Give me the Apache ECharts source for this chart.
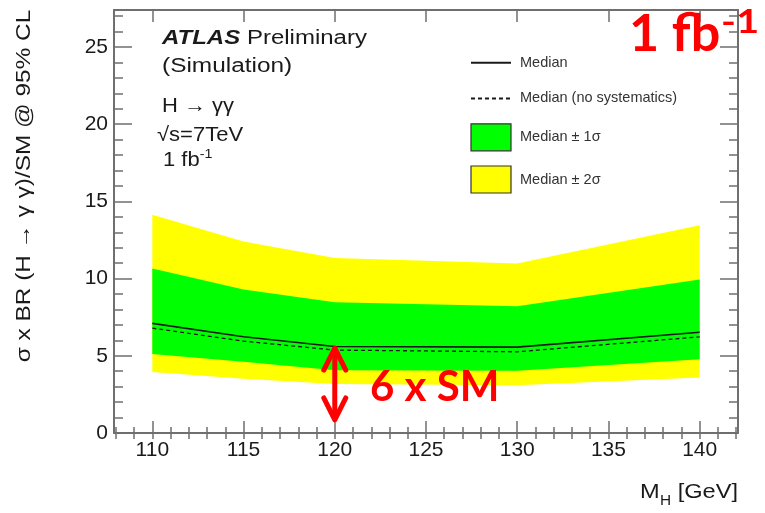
<!DOCTYPE html>
<html>
<head>
<meta charset="utf-8">
<script src="https://cdn.jsdelivr.net/npm/echarts@6/dist/echarts.min.js"></script>
<style>
  html, body { margin: 0; padding: 0; background: #ffffff; }
  #chart { width: 765px; height: 513px; }
</style>
</head>
<body>
<div id="chart"></div>
<script>
// Expected H -> gamma gamma exclusion limits, 1 fb^-1 at 7 TeV
const massPoints     = [110, 115, 120, 130, 140];
const median         = [7.10, 6.23, 5.60, 5.56, 6.53];
const medianNoSyst   = [6.79, 5.95, 5.37, 5.26, 6.23];
const band1Low       = [5.11, 4.61, 4.06, 4.03, 4.77];
const band1High      = [10.65, 9.29, 8.47, 8.21, 9.94];
const band2Low       = [3.95, 3.52, 3.17, 3.10, 3.60];
const band2High      = [14.14, 12.40, 11.34, 10.98, 13.45];

// Axis ranges and tick labels
const xRange = [107.9, 142.1];
const yRange = [0, 27.4];
const xMajorTicks = [110, 115, 120, 125, 130, 135, 140];
const xMinorTicks = [108,109,110,111,112,113,114,115,116,117,118,119,120,121,122,123,124,125,126,127,128,129,130,131,132,133,134,135,136,137,138,139,140,141,142];
const yMajorTicks = [0, 5, 10, 15, 20, 25];
const yMinorTicks = [1,2,3,4,5,6,7,8,9,10,11,12,13,14,15,16,17,18,19,20,21,22,23,24,25,26,27];

// "6 x SM" arrow: mass, top value, bottom value
const arrowMass = 120;
const arrowTop = 5.5;
const arrowBottom = 0.85;

const FONT = 'Liberation Sans';
const AXIS_COLOR = '#6f6f6f';
const TEXT_COLOR = '#1a1a1a';

function axisBase(extra) {
  return Object.assign({
    type: 'value',
    splitLine: { show: false },
    axisLabel: { show: false },
    axisLine: { show: false }
  }, extra);
}

function tickStyle(values, length) {
  return { show: true, inside: true, length: length, customValues: values,
           lineStyle: { color: AXIS_COLOR, width: 1.5 } };
}

const frameLine = { show: true, onZero: false, lineStyle: { color: AXIS_COLOR, width: 2 } };

const xAxes = [
  axisBase({ min: xRange[0], max: xRange[1], position: 'bottom', axisLine: frameLine,
    axisTick: tickStyle(xMajorTicks, 12),
    axisLabel: { show: true, customValues: xMajorTicks, fontSize: 21, fontFamily: FONT,
                 color: TEXT_COLOR, margin: 7 } }),
  axisBase({ min: xRange[0], max: xRange[1], position: 'bottom', axisTick: tickStyle(xMinorTicks, 6) }),
  axisBase({ min: xRange[0], max: xRange[1], position: 'top', axisLine: frameLine,
    axisTick: tickStyle(xMajorTicks, 12) }),
  axisBase({ min: xRange[0], max: xRange[1], position: 'top', axisTick: tickStyle(xMinorTicks, 6) })
];

const yAxes = [
  axisBase({ min: yRange[0], max: yRange[1], position: 'left', axisLine: frameLine,
    axisTick: tickStyle(yMajorTicks, 18),
    axisLabel: { show: true, customValues: yMajorTicks, fontSize: 21, fontFamily: FONT,
                 color: TEXT_COLOR, margin: 6 } }),
  axisBase({ min: yRange[0], max: yRange[1], position: 'left', axisTick: tickStyle(yMinorTicks, 9) }),
  axisBase({ min: yRange[0], max: yRange[1], position: 'right', axisLine: frameLine,
    axisTick: tickStyle(yMajorTicks, 18) }),
  axisBase({ min: yRange[0], max: yRange[1], position: 'right', axisTick: tickStyle(yMinorTicks, 9) })
];

// Filled band between a lower and an upper curve
function bandSeries(name, low, high, color, z) {
  return {
    type: 'custom',
    name: name,
    coordinateSystem: 'cartesian2d',
    xAxisIndex: 0, yAxisIndex: 0,
    z: z,
    silent: true,
    itemStyle: { color: color },
    data: [[massPoints[0], low[0]]],
    renderItem: function (params, api) {
      const upper = massPoints.map((m, i) => api.coord([m, high[i]]));
      const lower = massPoints.map((m, i) => api.coord([m, low[i]])).reverse();
      return { type: 'polygon', shape: { points: upper.concat(lower) }, style: { fill: color } };
    }
  };
}

const series = [
  bandSeries('Median ± 2σ', band2Low, band2High, '#ffff00', 1),
  bandSeries('Median ± 1σ', band1Low, band1High, '#00ff00', 2),
  {
    type: 'line', name: 'Median', z: 4, showSymbol: false, symbol: 'none',
    data: massPoints.map((m, i) => [m, median[i]]),
    lineStyle: { color: '#1a1a1a', width: 1.6 },
    itemStyle: { color: '#1a1a1a' }
  },
  {
    type: 'line', name: 'Median (no systematics)', z: 3, showSymbol: false, symbol: 'none',
    data: massPoints.map((m, i) => [m, medianNoSyst[i]]),
    lineStyle: { color: '#1a1a1a', width: 1.3, type: [4, 3] },
    itemStyle: { color: '#1a1a1a' }
  },
  {
    type: 'custom', name: 'arrow', z: 6, silent: true,
    coordinateSystem: 'cartesian2d',
    data: [[arrowMass, arrowTop, arrowBottom]],
    renderItem: function (params, api) {
      const top = api.coord([api.value(0), api.value(1)]);
      const bot = api.coord([api.value(0), api.value(2)]);
      const st = { stroke: '#ff0000', lineWidth: 5, lineCap: 'round', lineJoin: 'round', fill: null };
      return {
        type: 'group',
        children: [
          { type: 'line', shape: { x1: top[0], y1: top[1] + 2, x2: bot[0], y2: bot[1] - 2 }, style: st },
          { type: 'polyline', shape: { points: [[top[0] - 11, top[1] + 22], [top[0], top[1]], [top[0] + 11, top[1] + 22]] }, style: st },
          { type: 'polyline', shape: { points: [[bot[0] - 11, bot[1] - 22], [bot[0], bot[1]], [bot[0] + 11, bot[1] - 22]] }, style: st }
        ]
      };
    }
  }
];

const plainText = { fontSize: 20, fontFamily: FONT, fill: TEXT_COLOR, verticalAlign: 'middle' };
// legend entries of the two lines: line only, marker hidden
const lineOnly = { opacity: 0 };

const option = {
  animation: false,
  backgroundColor: '#ffffff',
  grid: { left: 114, right: 27, top: 10, bottom: 80, containLabel: false },
  xAxis: xAxes,
  yAxis: yAxes,
  legend: {
    orient: 'vertical',
    left: 470, top: 52, padding: 0,
    itemWidth: 40, itemHeight: 27, itemGap: 14,
    selectedMode: false,
    textStyle: { fontSize: 14.5, fontFamily: FONT, color: '#333333', padding: [0, 0, 0, 4] },
    data: [
      { name: 'Median', itemStyle: lineOnly },
      { name: 'Median (no systematics)', itemStyle: lineOnly },
      { name: 'Median ± 1σ', icon: 'rect', itemStyle: { borderColor: '#333333', borderWidth: 1.2 } },
      { name: 'Median ± 2σ', icon: 'rect', itemStyle: { borderColor: '#333333', borderWidth: 1.2 } }
    ]
  },
  graphic: [
    { type: 'text', x: 162, y: 38.5, scaleX: 1.2, z: 10,
      style: Object.assign({}, plainText, { text: '{a|ATLAS} Preliminary',
        rich: { a: { fontSize: 20, fontFamily: FONT, fontStyle: 'italic', fontWeight: 'bold', fill: TEXT_COLOR } } }) },
    { type: 'text', x: 162, y: 66, scaleX: 1.22, z: 10,
      style: Object.assign({}, plainText, { text: '(Simulation)' }) },
    { type: 'text', x: 162, y: 106.5, scaleX: 1.1, z: 10,
      style: Object.assign({}, plainText, { text: 'H → γγ' }) },
    { type: 'text', x: 157, y: 135, scaleX: 1.1, z: 10,
      style: Object.assign({}, plainText, { text: '√s=7TeV' }) },
    { type: 'text', x: 163, y: 160, scaleX: 1.1, z: 10,
      style: Object.assign({}, plainText, { text: '1 fb{s|-1}',
        rich: { s: { fontSize: 13, fontFamily: FONT, fill: TEXT_COLOR, padding: [0, 0, 12, 0] } } }) },
    // axis titles
    { type: 'text', x: 24, y: 186, rotation: Math.PI / 2, scaleX: 1.16, z: 10,
      style: { text: 'σ x BR (H → γ γ)/SM @ 95% CL', fontSize: 21, fontFamily: FONT, fill: TEXT_COLOR,
               align: 'center', verticalAlign: 'middle' } },
    { type: 'text', x: 640, y: 492.5, scaleX: 1.18, z: 10,
      style: Object.assign({}, plainText, { text: 'M' }) },
    { type: 'text', x: 660, y: 501, scaleX: 1.1, z: 10,
      style: Object.assign({}, plainText, { text: 'H', fontSize: 14 }) },
    { type: 'text', x: 738, y: 492.5, scaleX: 1.18, z: 10,
      style: Object.assign({}, plainText, { text: '[GeV]', align: 'right' }) },
    // red annotations
    { type: 'text', x: 629, y: 34, z: 10,
      style: { text: '1 fb', fontSize: 52, fontFamily: 'Lato', fontWeight: 'bold', fill: '#ff0000',
               verticalAlign: 'middle' } },
    { type: 'text', x: 721, y: 23, scaleX: 1.25, z: 10,
      style: { text: '-1', fontSize: 32, fontFamily: 'Lato', fontWeight: 'bold', fill: '#ff0000',
               verticalAlign: 'middle' } },
    { type: 'text', x: 370, y: 387, z: 10,
      style: { text: '6 x SM', fontSize: 42, fontFamily: 'Lato', fontWeight: 'bold', fill: '#ff0000',
               verticalAlign: 'middle' } }
  ],
  series: series
};

const chart = echarts.init(document.getElementById('chart'), null, { renderer: 'canvas' });
chart.setOption(option);
</script>
</body>
</html>
